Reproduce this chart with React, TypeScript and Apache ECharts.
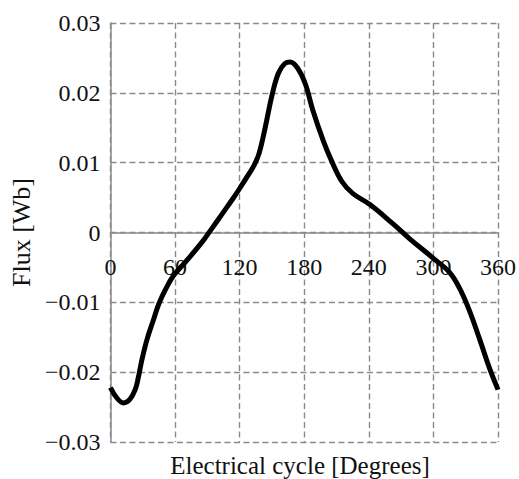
import React, { useEffect, useRef } from "react";
import * as echarts from "echarts";

const degrees = [0, 6, 12, 18, 23, 26, 29, 34, 40, 45, 52, 59, 71, 86, 93, 104, 114, 120, 127, 133, 138, 144, 150, 156, 162, 167, 174, 181, 188, 198, 205, 215, 225, 241, 262, 278, 300, 315, 324, 333, 343, 352, 360];
const flux = [-0.0222, -0.0237, -0.0244, -0.0239, -0.0225, -0.0207, -0.0184, -0.0153, -0.0125, -0.0102, -0.0079, -0.0061, -0.004, -0.0012, 0.0003, 0.0027, 0.0049, 0.0063, 0.008, 0.0095, 0.0113, 0.0152, 0.0196, 0.0228, 0.0242, 0.0244, 0.0235, 0.0213, 0.0175, 0.013, 0.0104, 0.0073, 0.0056, 0.004, 0.0013, -0.0009, -0.0037, -0.0057, -0.0079, -0.011, -0.0153, -0.0194, -0.0225];

const xTitle = "Electrical cycle [Degrees]";
const yTitle = "Flux [Wb]";
const FONT = "'Liberation Serif', 'DejaVu Serif', serif";

export default function App() {
  const ref = useRef<HTMLDivElement>(null);
  useEffect(() => {
    document.body.style.margin = "0";
    if (!ref.current) return;
    const chart = echarts.init(ref.current, undefined, { renderer: "svg" });
    const grid = "#8a8a8a";
    const top = 23;
    const bottom = 37;
    const plotH = 479 - top - bottom;
    chart.setOption({
      animation: false,
      grid: { left: 110, right: 20, top, bottom },
      xAxis: {
        type: "value",
        min: 0,
        max: 360,
        interval: 60,
        offset: -plotH / 2,
        axisLine: { show: true, onZero: false, lineStyle: { color: grid, width: 1.5 } },
        axisTick: { show: false },
        axisLabel: { margin: 22, color: "#111", fontFamily: FONT, fontSize: 24 },
        splitLine: { show: true, lineStyle: { color: grid, type: [6, 3.5], width: 1.4 } },
      },
      yAxis: {
        type: "value",
        min: -0.03,
        max: 0.03,
        interval: 0.01,
        name: yTitle,
        nameLocation: "middle",
        nameGap: 76,
        nameTextStyle: { color: "#111", fontFamily: FONT, fontSize: 26 },
        axisLine: { show: true, onZero: false, lineStyle: { color: grid, width: 1.5 } },
        axisTick: { show: false },
        axisLabel: {
          margin: 10,
          color: "#111",
          fontFamily: FONT,
          fontSize: 24,
          formatter: (v: number) => {
            const r = Math.round(v * 100) / 100;
            if (r === 0) return "0";
            const s = Math.abs(r).toFixed(2);
            return r < 0 ? "\u2212" + s : s;
          },
        },
        splitLine: { show: true, lineStyle: { color: grid, type: [6, 3.5], width: 1.4 } },
      },
      graphic: [
        {
          type: "text",
          x: 300,
          y: 465,
          style: {
            text: xTitle,
            fill: "#111",
            font: `25px ${FONT}`,
            textAlign: "center",
            textVerticalAlign: "middle",
          },
        },
      ],
      series: [
        {
          type: "line",
          data: degrees.map((d, i) => [d, flux[i]]),
          smooth: 0.4,
          showSymbol: false,
          lineStyle: { color: "#000", width: 5 },
        },
      ],
    });
    return () => chart.dispose();
  }, []);
  return <div ref={ref} style={{ width: 519, height: 479 }} />;
}
